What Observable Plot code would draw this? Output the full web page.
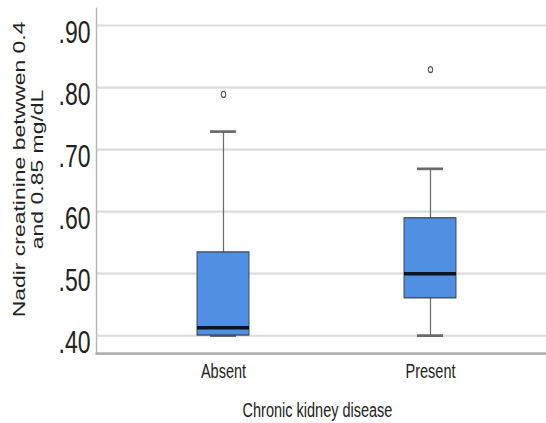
<!DOCTYPE html>
<html>
<head>
<meta charset="utf-8">
<script src="https://cdn.jsdelivr.net/npm/d3@7"></script>
<script src="https://cdn.jsdelivr.net/npm/@observablehq/plot@0.6"></script>
<style>
  html, body { margin: 0; padding: 0; background: #ffffff; }
  #chart { width: 546px; height: 423px; overflow: hidden; }
  #chart svg { transform: scale(1, 1.35); transform-origin: 0 0; display: block; }
</style>
</head>
<body>
<div id="chart"></div>
<script>
// Categories and box statistics
const categories = ["Absent", "Present"];
const whiskerLow = [0.40, 0.40];
const q1 = [0.40, 0.46];
const median = [0.413, 0.50];
const q3 = [0.534, 0.589];
const whiskerHigh = [0.729, 0.669];
const outlierCategory = ["Absent", "Present"];
const outlierValue = [0.789, 0.829];
const yTicks = [0.40, 0.50, 0.60, 0.70, 0.80, 0.90];
const yTitle = "Nadir creatinine betwwen 0.4\nand 0.85 mg/dL";
const xTitle = "Chronic kidney disease";

const stats = categories.map((c, i) => ({
  cat: c, lo: whiskerLow[i], q1: q1[i], med: median[i], q3: q3[i], hi: whiskerHigh[i]
}));
const outliers = outlierCategory.map((c, i) => ({cat: c, value: outlierValue[i]}));
const fmt = d => d3.format(".2f")(d).replace(/^0/, "");

const chart = Plot.plot({
  width: 546,
  height: 313,
  marginLeft: 96,
  marginRight: 0,
  marginTop: 6,
  marginBottom: 51.5,
  style: {fontFamily: "'Liberation Sans', Arial, sans-serif", color: "#222", background: "transparent"},
  x: {type: "band", domain: categories, paddingInner: 0.75, paddingOuter: 0.457, align: 0.53},
  y: {domain: [0.371, 0.927]},
  marks: [
    Plot.gridY(yTicks, {stroke: "#dcdcdc", strokeOpacity: 1, strokeWidth: 1.6}),
    Plot.frame({anchor: "left", stroke: "#b5b5b5", strokeWidth: 1.4}),
    Plot.frame({anchor: "bottom", stroke: "#b0b0b0", strokeWidth: 2}),
    Plot.ruleX(stats, {x: "cat", y1: "q3", y2: "hi", stroke: "#6a6a6a", strokeWidth: 1.2}),
    Plot.ruleX(stats, {x: "cat", y1: "lo", y2: "q1", stroke: "#6a6a6a", strokeWidth: 1.2}),
    Plot.tickY(stats, {x: "cat", y: "hi", insetLeft: 13, insetRight: 13, stroke: "#6a6a6a", strokeWidth: 2}),
    Plot.tickY(stats, {x: "cat", y: "lo", insetLeft: 13, insetRight: 13, stroke: "#6a6a6a", strokeWidth: 2}),
    Plot.barY(stats, {x: "cat", y1: "q1", y2: "q3", fill: "#4f90e3", stroke: "#3a3f48", strokeWidth: 0.9}),
    Plot.tickY(stats, {x: "cat", y: "med", stroke: "#0c1422", strokeWidth: 2.6}),
    Plot.dot(outliers, {x: "cat", y: "value", r: 2.2, stroke: "#555", strokeWidth: 1, fill: "none"}),
    Plot.axisY(yTicks, {tickSize: 0, tickPadding: 6, tickFormat: fmt, fontSize: 23, dy: 5.5, label: null, fill: "#222"}),
    Plot.axisX({tickSize: 0, tickPadding: 7.5, fontSize: 14.5, label: null, fill: "#222"}),
    Plot.text([xTitle], {frameAnchor: "bottom", lineAnchor: "middle", dy: 42, dx: -4, fontSize: 14.5, fill: "#222"}),
    Plot.text([yTitle], {frameAnchor: "left", rotate: -90, textAnchor: "middle", lineAnchor: "middle", dx: -68, dy: -8.75, fontSize: 17, lineHeight: 1.06, fill: "#222"})
  ]
});
document.getElementById("chart").appendChild(chart);
</script>
</body>
</html>
